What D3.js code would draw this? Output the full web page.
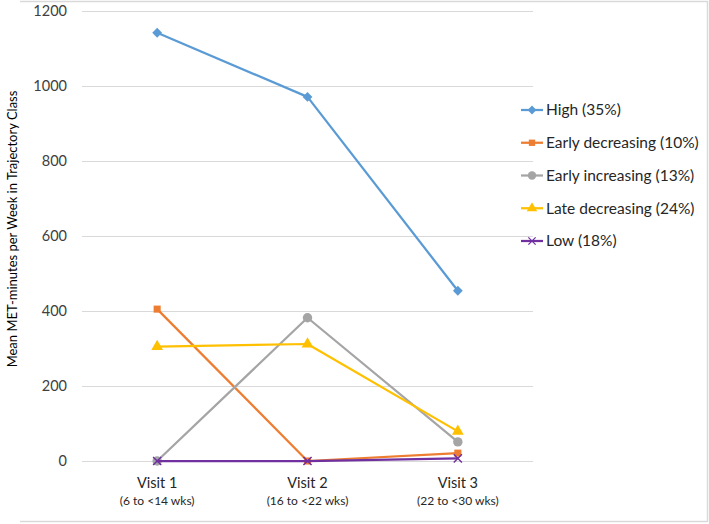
<!DOCTYPE html>
<html>
<head>
<meta charset="utf-8">
<script src="https://cdn.jsdelivr.net/npm/d3@7"></script>
<style>
html,body{margin:0;padding:0;background:#fff;}
svg text{font-family:Lato,"Liberation Sans",sans-serif;}
</style>
</head>
<body>
<svg id="chart" width="709" height="524"></svg>
<script>
const categories = ["Visit 1", "Visit 2", "Visit 3"];
const subLabels = ["(6 to <14 wks)", "(16 to <22 wks)", "(22 to <30 wks)"];
const seriesNames = ["High (35%)", "Early decreasing (10%)", "Early increasing (13%)", "Late decreasing (24%)", "Low (18%)"];
const high = [1142, 971, 454];
const earlyDecreasing = [405, 0, 21];
const earlyIncreasing = [0, 382, 51];
const lateDecreasing = [305, 312, 79];
const low = [0, 0, 7];
const yTicks = [0, 200, 400, 600, 800, 1000, 1200];
const yTitle = "Mean MET-minutes per Week in Trajectory Class";

const colors = ["#5B9BD5", "#ED7D31", "#A5A5A5", "#FFC000", "#7030A0"];
const symbols = [d3.symbolSquare, d3.symbolSquare, d3.symbolCircle, d3.symbolTriangle, d3.symbolX];
const rotations = [45, 0, 0, 0, 0];
const symSizes = [48, 50, 70, 60, 45];
const seriesValues = [high, earlyDecreasing, earlyIncreasing, lateDecreasing, low];
const series = seriesNames.map((n, i) => ({name: n, values: seriesValues[i], color: colors[i], symbol: symbols[i], rot: rotations[i], size: symSizes[i]}));

const svg = d3.select("#chart");

// outer frame
svg.append("path").attr("d", "M20,1.5 H707.5 V521.5 H20")
  .attr("stroke", "#d9d9d9").attr("stroke-width", 1.5).attr("fill", "none");

const x = d3.scaleBand().domain(categories).range([82, 533]);
const y = d3.scaleLinear().domain([0, 1200]).range([461, 11]);
const cx = c => x(c) + x.bandwidth() / 2;

// gridlines
svg.append("g").selectAll("line").data(yTicks).join("line")
  .attr("x1", 82).attr("x2", 533)
  .attr("y1", d => y(d) + 0.5).attr("y2", d => y(d) + 0.5)
  .attr("stroke", "#d9d9d9").attr("stroke-width", 1);

// y axis labels
const yAxis = d3.axisLeft(y).tickValues(yTicks).tickSize(0).tickPadding(0).tickFormat(d3.format("d"));
const ya = svg.append("g").attr("transform", "translate(67,0)").call(yAxis);
ya.select(".domain").remove();
ya.selectAll("text").attr("font-size", 14.5).attr("fill", "#404040").attr("font-family", "Lato,'Liberation Sans',sans-serif");

// x axis labels
const xa = svg.append("g");
xa.selectAll("text.main").data(categories).join("text").attr("class", "main")
  .attr("x", d => cx(d)).attr("y", 488).attr("text-anchor", "middle")
  .attr("font-size", 14.5).attr("fill", "#262626").text(d => d);
xa.selectAll("text.sub").data(categories).join("text").attr("class", "sub")
  .attr("x", d => cx(d)).attr("y", 505).attr("text-anchor", "middle")
  .attr("font-size", 12).attr("fill", "#262626").text((d, i) => subLabels[i]);

// y title
svg.append("text").attr("transform", "translate(17,229) rotate(-90)")
  .attr("text-anchor", "middle").attr("font-size", 13).attr("fill", "#000").text(yTitle);

// lines
const line = d3.line().x((d, i) => cx(categories[i])).y(d => y(d));
const sg = svg.append("g");
series.forEach(s => {
  const g = sg.append("g");
  g.append("path").attr("d", line(s.values)).attr("fill", "none")
    .attr("stroke", s.color).attr("stroke-width", 2.25).attr("stroke-linejoin", "round");
  g.selectAll("path.m").data(s.values).join("path").attr("class", "m")
    .attr("transform", (d, i) => `translate(${cx(categories[i])},${y(d)}) rotate(${s.rot})`)
    .attr("d", d3.symbol().type(s.symbol).size(s.size))
    .attr("fill", s.symbol === d3.symbolX ? "none" : s.color)
    .attr("stroke", s.symbol === d3.symbolX ? s.color : "none")
    .attr("stroke-width", 1.5);
});

// legend
const lg = svg.append("g");
series.forEach((s, i) => {
  const ly = 110 + i * 32.75;
  lg.append("line").attr("x1", 521).attr("x2", 543).attr("y1", ly).attr("y2", ly)
    .attr("stroke", s.color).attr("stroke-width", 2.25);
  lg.append("path").attr("transform", `translate(532,${ly}) rotate(${s.rot})`)
    .attr("d", d3.symbol().type(s.symbol).size(s.size * 0.8))
    .attr("fill", s.symbol === d3.symbolX ? "none" : s.color)
    .attr("stroke", s.symbol === d3.symbolX ? s.color : "none").attr("stroke-width", 1.3);
  lg.append("text").attr("x", 546).attr("y", ly).attr("dy", "0.35em")
    .attr("font-size", 15.5).attr("fill", "#262626").text(s.name);
});
</script>
</body>
</html>
